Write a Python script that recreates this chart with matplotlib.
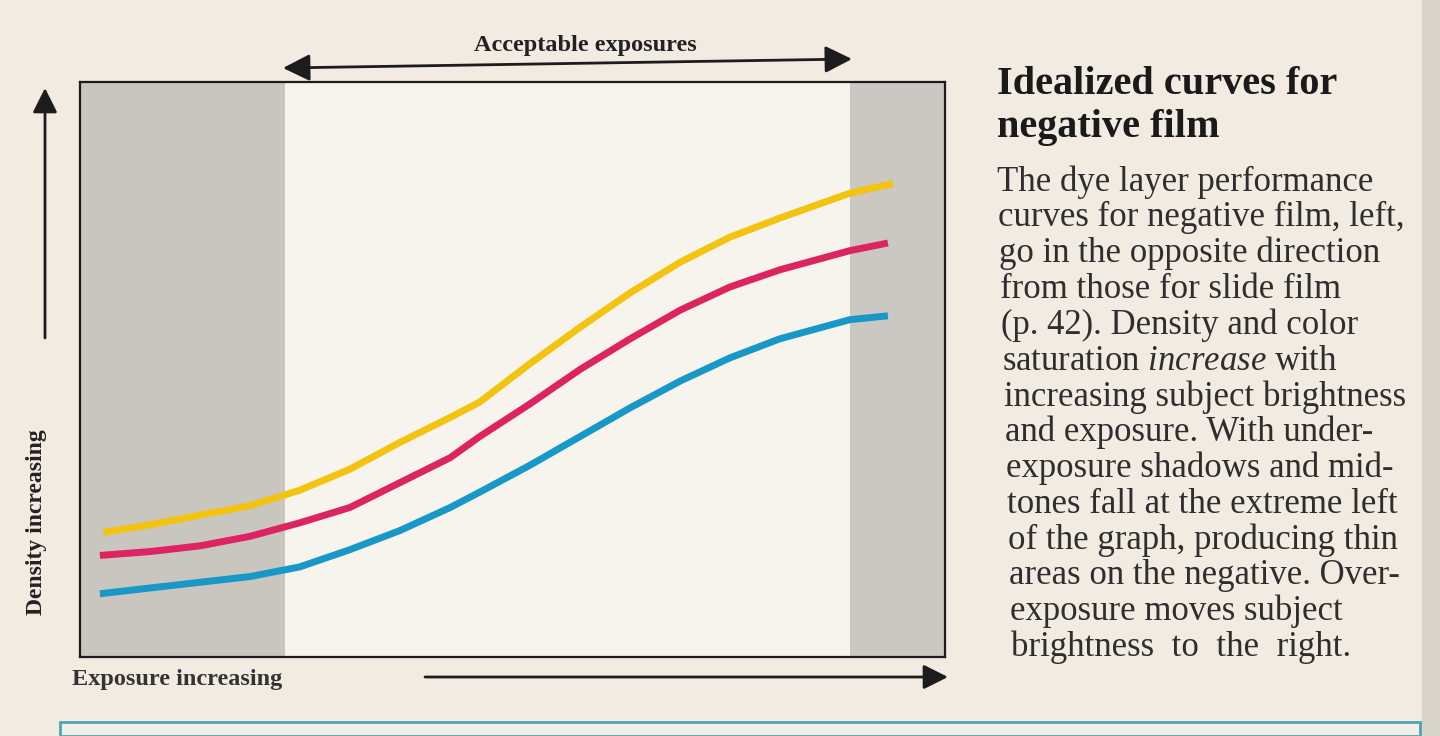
import numpy as np
import matplotlib
matplotlib.use("Agg")
import matplotlib.pyplot as plt
from matplotlib.patches import Rectangle

# dye curves (exposure, density in arbitrary units)
exposure_y = [0.27, 0.81, 1.39, 1.97, 2.54, 3.12, 3.70, 4.28, 4.62, 5.20,
              5.78, 6.36, 6.94, 7.51, 8.09, 8.90, 9.40]
yellow = [0.65, 0.69, 0.74, 0.79, 0.87, 0.98, 1.12, 1.25, 1.33, 1.53,
          1.72, 1.90, 2.06, 2.19, 2.29, 2.42, 2.47]
exposure_mc = [0.23, 0.81, 1.39, 1.97, 2.54, 3.12, 3.70, 4.28, 4.62, 5.20,
               5.78, 6.36, 6.94, 7.51, 8.09, 8.90, 9.34]
magenta = [0.53, 0.55, 0.58, 0.63, 0.70, 0.78, 0.91, 1.04, 1.15, 1.32,
           1.50, 1.66, 1.81, 1.93, 2.02, 2.12, 2.16]
cyan = [0.33, 0.36, 0.39, 0.42, 0.47, 0.56, 0.66, 0.78, 0.86, 1.00,
        1.15, 1.30, 1.44, 1.56, 1.66, 1.76, 1.78]

# acceptable exposure window
accept_lo, accept_hi = 2.37, 8.90

title = "Idealized curves for\nnegative film"
body = [
    "The dye layer performance",
    "curves for negative film, left,",
    "go in the opposite direction",
    "from those for slide film",
    "(p. 42). Density and color",
    r"saturation $\mathit{increase}$ with",
    "increasing subject brightness",
    "and exposure. With under-",
    "exposure shadows and mid-",
    "tones fall at the extreme left",
    "of the graph, producing thin",
    "areas on the negative. Over-",
    "exposure moves subject",
    "brightness  to  the  right.",
]

plt.rcParams["mathtext.fontset"] = "custom"
plt.rcParams["mathtext.rm"] = "Liberation Serif"
plt.rcParams["mathtext.it"] = "Liberation Serif:italic"

W, H = 1440, 736
page = "#f1ebe1"
ink = "#1c1c1c"


def fx(px):
    return px / W


def fy(py):
    return 1 - py / H


fig = plt.figure(figsize=(14.4, 7.36), dpi=100, facecolor=page)
ax = fig.add_axes([fx(80), fy(657), 865 / W, 575 / H])
ax.set_facecolor("#f7f3ed")
ax.set_xlim(0, 10)
ax.set_ylim(0, 3)
ax.set_xticks([])
ax.set_yticks([])
for s in ax.spines.values():
    s.set_color(ink)
    s.set_linewidth(1.6)

ax.axvspan(0, accept_lo, color="#c9c5bf", lw=0)
ax.axvspan(accept_hi, 10, color="#cbc8c3", lw=0)

for xs, ys, c in [(exposure_y, yellow, "#f2c40f"),
                  (exposure_mc, magenta, "#dd2460"),
                  (exposure_mc, cyan, "#1798c6")]:
    ax.plot(xs, ys, color=c, lw=5, solid_capstyle="butt", solid_joinstyle="round")

both = dict(arrowstyle="<|-|>,head_length=1.1,head_width=0.55", lw=2, color=ink,
            mutation_scale=15, shrinkA=0, shrinkB=0)
one = dict(arrowstyle="-|>,head_length=1.0,head_width=0.5", lw=2, color=ink,
           mutation_scale=15, shrinkA=0, shrinkB=0)


def fig_arrow(x0, y0, x1, y1, props):
    fig.add_artist(plt.Annotation("", xy=(fx(x1), fy(y1)), xytext=(fx(x0), fy(y0)),
                                  xycoords="figure fraction", textcoords="figure fraction",
                                  arrowprops=props))


fig_arrow(283, 68, 852, 59, both)
fig.text(fx(585), fy(45), "Acceptable exposures", ha="center", va="center",
         family="Liberation Serif", fontsize=17.5, weight="bold", color="#222")

fig_arrow(45, 338, 45, 88, one)
fig.text(fx(37), fy(522), "Density increasing", rotation=90, ha="center", va="center",
         family="Liberation Serif", fontsize=17, weight="bold", color="#222")

fig_arrow(425, 677, 948, 677, one)
fig.text(fx(72), fy(680), "Exposure increasing", ha="left", va="center",
         family="Liberation Serif", fontsize=17.5, weight="bold", color="#333")

fig.text(fx(997), fy(66), title, ha="left", va="top", family="Liberation Serif",
         fontsize=29, weight="bold", color="#1a1a1a", linespacing=1.2)
for i, line in enumerate(body):
    fig.text(fx(997 + i * 1.1), fy(182 + i * 35.8), line, ha="left", va="center",
             family="Liberation Serif", fontsize=25, color="#2e2e2e")

# page edge details
fig.add_artist(Rectangle((fx(60), 0), fx(1420) - fx(60), fy(722), transform=fig.transFigure,
                         facecolor="#f3efe8", edgecolor="#4fa3b5", lw=2))
fig.add_artist(Rectangle((fx(1422), 0), fx(18), 1, transform=fig.transFigure,
                         facecolor="#d9d4ca", edgecolor="none"))

fig.savefig("out.png", dpi=100, facecolor=page)
